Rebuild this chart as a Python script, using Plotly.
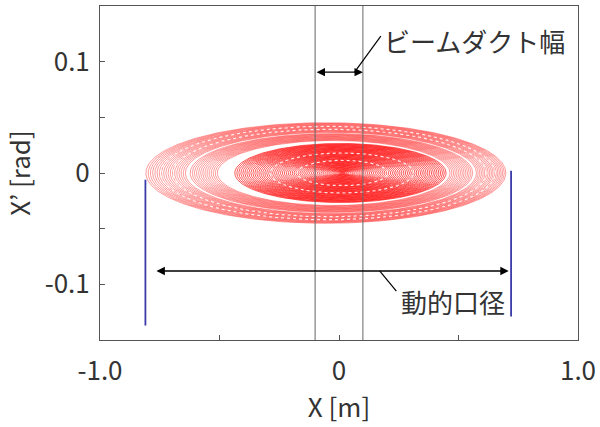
import numpy as np
import plotly.graph_objects as go

# ---- data ----
# half-widths (in X, metres) of the tracked phase-space rings
ring_amp = [0.010, 0.018, 0.026, 0.034, 0.042, 0.050, 0.058, 0.066, 0.074, 0.082,
            0.090, 0.098, 0.106, 0.114, 0.122, 0.130, 0.138, 0.146, 0.154, 0.162,
            0.170, 0.178, 0.186, 0.194, 0.202, 0.210, 0.218, 0.226, 0.234, 0.242,
            0.250, 0.258, 0.266, 0.274, 0.282, 0.290, 0.298, 0.306, 0.314, 0.322,
            0.330, 0.338, 0.346, 0.354, 0.362, 0.370, 0.378, 0.386, 0.394, 0.402,
            0.410, 0.418, 0.426, 0.434, 0.442, 0.487, 0.495, 0.503, 0.511, 0.519,
            0.527, 0.535, 0.543, 0.551, 0.559, 0.567, 0.575, 0.583, 0.591, 0.609,
            0.617, 0.625, 0.633, 0.641, 0.649, 0.657, 0.665, 0.673, 0.681, 0.689,
            0.697, 0.705, 0.713, 0.721, 0.729, 0.737, 0.745, 0.753]
# rings broken into island chains (appear as dotted white gaps)
island_amp = [0.19, 0.30, 0.655, 0.70]
ring_aspect = 0.06           # X' half-height / X half-width
ring_shift = [0.015, -0.045]  # centre offset at small / extra at outer amplitude
outer_step = [0.47, -0.025]   # rings beyond the island gap sit further left

duct_x = [-0.1, 0.1]                 # beam duct width
aperture_x = [-0.81, 0.72]           # dynamic aperture limits
aperture_y_top = [-0.006, 0.002]
aperture_y_bot = [-0.137, -0.129]

duct_arrow_y = 0.0906
aperture_arrow = [-0.77, 0.71, -0.088]

x_ticks = [-1.0, 0.0, 1.0]
x_ticktext = ["-1.0", "0", "1.0"]
y_ticks = [-0.1, 0.0, 0.1]
y_ticktext = ["-0.1", "0", "0.1"]

FONT = "Noto Sans CJK JP"
TXT = "#333333"


def ring(a, n=400):
    t = np.linspace(0, 2 * np.pi, n)
    c = ring_shift[0] + ring_shift[1] * (a / max(ring_amp)) ** 3
    if a > outer_step[0]:
        c += outer_step[1]
    return c + a * np.cos(t), ring_aspect * a * np.sin(t)


def collect(amps):
    xs, ys = [], []
    for a in amps:
        x, y = ring(a)
        xs += list(x) + [None]
        ys += list(y) + [None]
    return xs, ys


inner_x, inner_y = collect([a for a in ring_amp if a < outer_step[0]])
outer_x, outer_y = collect([a for a in ring_amp if a >= outer_step[0]])
ix, iy = collect(island_amp)

fig = go.Figure()
fig.add_trace(go.Scatter(x=inner_x, y=inner_y, mode="lines",
                         line=dict(color="rgba(255,0,0,0.65)", width=1),
                         hoverinfo="skip", showlegend=False))
fig.add_trace(go.Scatter(x=outer_x, y=outer_y, mode="lines",
                         line=dict(color="rgba(255,20,20,0.42)", width=1),
                         hoverinfo="skip", showlegend=False))
fig.add_trace(go.Scatter(x=ix, y=iy, mode="lines",
                         line=dict(color="rgba(255,255,255,0.85)", width=1.2, dash="dot"),
                         hoverinfo="skip", showlegend=False))

for xv in duct_x:
    fig.add_shape(type="line", x0=xv, x1=xv, y0=0, y1=1, xref="x", yref="paper",
                  line=dict(color="#666666", width=1))

for xv, y0, y1 in zip(aperture_x, aperture_y_top, aperture_y_bot):
    fig.add_trace(go.Scatter(x=[xv, xv], y=[y0, y1], mode="lines",
                             line=dict(color="#3a3aa8", width=1.8),
                             hoverinfo="skip", showlegend=False))

# double arrows
fig.add_annotation(x=duct_x[1], y=duct_arrow_y, ax=duct_x[0], ay=duct_arrow_y,
                   xref="x", yref="y", axref="x", ayref="y", text="",
                   showarrow=True, arrowside="end+start", arrowhead=2,
                   arrowsize=1.2, arrowwidth=1.4, arrowcolor="black")
fig.add_annotation(x=aperture_arrow[1], y=aperture_arrow[2], ax=aperture_arrow[0],
                   ay=aperture_arrow[2], xref="x", yref="y", axref="x", ayref="y",
                   text="", showarrow=True, arrowside="end+start", arrowhead=2,
                   arrowsize=1.2, arrowwidth=1.4, arrowcolor="black")

# leader lines
fig.add_shape(type="line", x0=0.065, y0=duct_arrow_y, x1=0.175, y1=0.123,
              line=dict(color="black", width=1.2))
fig.add_shape(type="line", x0=0.17, y0=aperture_arrow[2], x1=0.24, y1=-0.106,
              line=dict(color="black", width=1.2))

fig.add_annotation(x=0.18, y=0.119, xref="x", yref="y", text="ビームダクト幅",
                   showarrow=False, xanchor="left", yanchor="middle",
                   font=dict(family=FONT, size=26, color=TXT))
fig.add_annotation(x=0.25, y=-0.1157, xref="x", yref="y", text="動的口径",
                   showarrow=False, xanchor="left", yanchor="middle",
                   font=dict(family=FONT, size=26, color=TXT))

axis_common = dict(showline=True, mirror=True, linecolor="#555555", linewidth=1,
                   ticks="inside", ticklen=5, tickcolor="#555555",
                   showgrid=False, zeroline=False, automargin=False,
                   tickfont=dict(family=FONT, size=26, color=TXT))

fig.update_xaxes(range=[-1, 1], tickvals=x_ticks, ticktext=x_ticktext,
                 minor=dict(dtick=0.5, tick0=0, ticks="inside", ticklen=5,
                            tickcolor="#555555"),
                 ticklabelstandoff=8,
                 title=dict(text="X [m]", font=dict(family=FONT, size=26, color=TXT),
                            standoff=6),
                 **axis_common)
fig.update_yaxes(range=[-0.15, 0.15], tickvals=y_ticks, ticktext=y_ticktext,
                 minor=dict(dtick=0.05, tick0=0, ticks="inside", ticklen=5,
                            tickcolor="#555555"),
                 ticklabelstandoff=4,
                 title=dict(text="X’ [rad]", font=dict(family=FONT, size=26, color=TXT),
                            standoff=12),
                 **axis_common)

fig.update_layout(width=600, height=427, plot_bgcolor="white", paper_bgcolor="white",
                  margin=dict(l=100, r=22, t=6, b=87), showlegend=False,
                  font=dict(family=FONT, color=TXT))

fig.write_html("out.html", config={"displayModeBar": False},
               post_script="document.body.style.margin='0';document.body.style.overflow='hidden';")
